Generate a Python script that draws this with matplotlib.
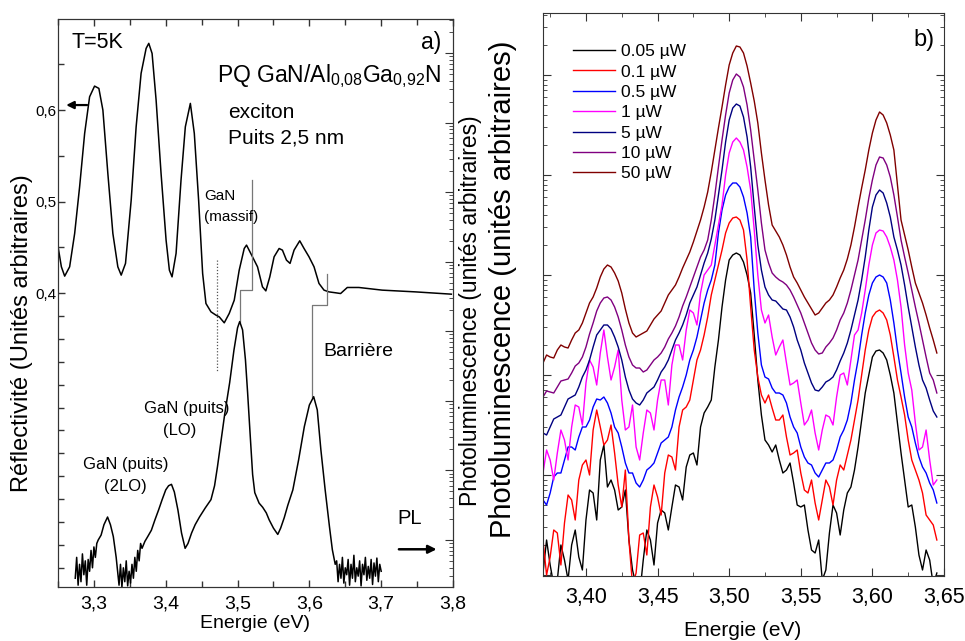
import numpy as np
import matplotlib
matplotlib.use('Agg')
import matplotlib.pyplot as plt
from matplotlib.ticker import MultipleLocator, FixedLocator, LogLocator, NullFormatter, FuncFormatter

plt.rcParams['font.family'] = ['Liberation Sans', 'DejaVu Sans']

# ---------------- Panel a) : reflectivity (linear) ----------------
refl_energy = [3.2501, 3.2547, 3.2593, 3.2662, 3.2732, 3.2801, 3.2871, 3.294, 3.3009, 3.3069,
               3.3125, 3.3194, 3.3264, 3.3333, 3.338, 3.344, 3.3519, 3.3588, 3.3657, 3.3727,
               3.3764, 3.381, 3.3866, 3.3935, 3.4005, 3.4051, 3.4088, 3.4144, 3.4213, 3.4273,
               3.4343, 3.4398, 3.4458, 3.4514, 3.456, 3.463, 3.4699, 3.4745, 3.4815, 3.4884,
               3.4954, 3.5023, 3.5093, 3.5125, 3.5208, 3.5278, 3.5347, 3.5394, 3.5449, 3.5509,
               3.5579, 3.5625, 3.5681, 3.5731, 3.5787, 3.5866, 3.5926, 3.5995, 3.6065, 3.6134,
               3.6204, 3.6273, 3.6366, 3.6435, 3.6528, 3.669, 3.7014, 3.7477, 3.7977]
refl_value = [0.4506, 0.4288, 0.4186, 0.4288, 0.4652, 0.5162, 0.5745, 0.6145, 0.6262, 0.6237,
              0.6000, 0.5308, 0.4652, 0.4288, 0.4197, 0.4325, 0.5016, 0.5817, 0.6401, 0.6674,
              0.6729, 0.6619, 0.6109, 0.5308, 0.4579, 0.4251, 0.4178, 0.4434, 0.5235, 0.5817,
              0.6073, 0.5745, 0.5016, 0.4215, 0.3887, 0.3796, 0.3760, 0.3741, 0.3676, 0.3778,
              0.3923, 0.4251, 0.4488, 0.4525, 0.4397, 0.4288, 0.4069, 0.4025, 0.4178, 0.4397,
              0.4488, 0.4470, 0.4361, 0.4325, 0.4470, 0.4572, 0.4488, 0.4397, 0.4288, 0.4106,
              0.4033, 0.4014, 0.4004, 0.3996, 0.4062, 0.4062, 0.4033, 0.4014, 0.3989]

# PL of panel a) : log10 of intensity read from the log axis
pla_energy = [3.274, 3.276, 3.278, 3.280, 3.282, 3.284, 3.286, 3.288, 3.290, 3.292,
              3.294, 3.296, 3.298, 3.300, 3.302, 3.304, 3.306, 3.31, 3.314, 3.319,
              3.323, 3.327, 3.331, 3.333, 3.335, 3.337, 3.339, 3.341, 3.343, 3.345,
              3.347, 3.349, 3.351, 3.353, 3.355, 3.357, 3.359, 3.361, 3.363, 3.365,
              3.367, 3.371, 3.375, 3.38, 3.385, 3.39, 3.395, 3.40, 3.404, 3.408,
              3.412, 3.417, 3.422, 3.427, 3.431, 3.436, 3.441, 3.447, 3.455, 3.463,
              3.468, 3.472, 3.476, 3.482, 3.489, 3.495, 3.50, 3.503, 3.507, 3.511,
              3.514, 3.518, 3.521, 3.524, 3.53, 3.535, 3.54, 3.544, 3.55, 3.556,
              3.56, 3.565, 3.57, 3.577, 3.585, 3.593, 3.60, 3.606, 3.611, 3.616,
              3.622, 3.628, 3.632, 3.636, 3.638, 3.640, 3.642, 3.644, 3.646, 3.648,
              3.650, 3.652, 3.654, 3.656, 3.658, 3.660, 3.662, 3.664, 3.666, 3.668,
              3.670, 3.672, 3.674, 3.676, 3.678, 3.680, 3.682, 3.684, 3.686, 3.688,
              3.690, 3.692, 3.694, 3.696, 3.698, 3.700]
pla_log10 = [-0.55, -0.25, -0.65, -0.35, -0.60, -0.20, -0.50, -0.30, -0.65, -0.28,
             -0.45, -0.15, -0.40, -0.10, -0.25, -0.05, 0.00, 0.07, 0.22, 0.33,
             0.22, 0.05, -0.25, -0.45, -0.65, -0.35, -0.68, -0.40, -0.60, -0.30,
             -0.66, -0.45, -0.62, -0.35, -0.55, -0.25, -0.45, -0.15, -0.30, -0.05,
             -0.12, -0.02, 0.05, 0.14, 0.29, 0.43, 0.58, 0.72, 0.78, 0.80,
             0.69, 0.43, 0.10, -0.12, -0.05, 0.10, 0.22, 0.33, 0.46, 0.58,
             0.78, 1.05, 1.35, 1.80, 2.26, 2.73, 3.05, 3.14, 3.02, 2.59,
             2.12, 1.44, 0.94, 0.68, 0.53, 0.47, 0.39, 0.29, 0.17, 0.08,
             0.17, 0.32, 0.50, 0.72, 1.15, 1.63, 1.94, 2.06, 1.87, 1.30,
             0.72, 0.19, -0.14, -0.35, -0.30, -0.60, -0.35, -0.55, -0.25, -0.62,
             -0.40, -0.50, -0.28, -0.65, -0.35, -0.55, -0.22, -0.60, -0.40, -0.52,
             -0.30, -0.66, -0.35, -0.50, -0.25, -0.58, -0.38, -0.55, -0.28, -0.64,
             -0.33, -0.52, -0.26, -0.60, -0.35, -0.45]

# ---------------- Panel b) : PL vs excitation power (log10 intensity) ----------------
plb_energy = [3.370, 3.375, 3.380, 3.385, 3.390, 3.395, 3.400, 3.405, 3.410, 3.415,
              3.420, 3.425, 3.430, 3.435, 3.440, 3.445, 3.450, 3.455, 3.460, 3.465,
              3.470, 3.475, 3.480, 3.485, 3.490, 3.495, 3.500, 3.505, 3.510, 3.515,
              3.520, 3.525, 3.530, 3.535, 3.540, 3.545, 3.550, 3.555, 3.560, 3.565,
              3.570, 3.575, 3.580, 3.585, 3.590, 3.595, 3.600, 3.605, 3.610, 3.615,
              3.620, 3.625, 3.630, 3.635, 3.640, 3.645]
plb_energy_mid = [3.3725, 3.3775, 3.3825, 3.3875, 3.3925, 3.3975, 3.4025, 3.4075, 3.4125, 3.4175,
                  3.4225, 3.4275, 3.4325, 3.4375, 3.4425, 3.4475, 3.4525, 3.4575, 3.4625, 3.4675,
                  3.4725, 3.4775, 3.4825, 3.4875, 3.4925, 3.4975, 3.5025, 3.5075, 3.5125, 3.5175,
                  3.5225, 3.5275, 3.5325, 3.5375, 3.5425, 3.5475, 3.5525, 3.5575, 3.5625, 3.5675,
                  3.5725, 3.5775, 3.5825, 3.5875, 3.5925, 3.5975, 3.6025, 3.6075, 3.6125, 3.6175,
                  3.6225, 3.6275, 3.6325, 3.6375, 3.6425]
powers = ['0.05 µW', '0.1 µW', '0.5 µW', '1 µW', '5 µW', '10 µW', '50 µW']

pl_005 = [0.02, 0.10, -0.05, 0.15, 0.30, 0.18, 0.55, 0.82, 1.15, 0.88,
          0.85, 0.68, 0.35, -0.10, 0.15, 0.35, 0.52, 0.62, 0.68, 0.88,
          1.08, 1.22, 1.48, 1.68, 2.08, 2.68, 3.15, 3.22, 3.13, 2.82,
          1.95, 1.35, 1.23, 1.15, 1.05, 0.92, 0.68, 0.45, 0.22, -0.05,
          0.42, 0.62, 0.65, 0.88, 1.28, 1.82, 2.18, 2.25, 2.15, 1.82,
          1.22, 0.68, 0.48, 0.05, 0.15, 0.02]
pl_005_mid = [0.35, -0.10, 0.30, -0.05, 0.45, 0.05, 0.85, 0.55, 1.30, 0.95,
              0.65, 0.85, 0.05, -0.20, 0.45, 0.10, 0.65, 0.45, 0.90, 0.75,
              1.20, 1.10, 1.62, 1.75, 2.35, 2.95, 3.20, 3.20, 3.00, 2.40,
              1.60, 1.30, 1.30, 1.02, 1.12, 0.70, 0.70, 0.25, 0.35, 0.05,
              0.70, 0.40, 0.82, 1.05, 1.55, 2.00, 2.24, 2.22, 2.00, 1.52,
              0.95, 0.70, 0.20, 0.25, -0.10]
pl_01 = [0.35, 0.18, 0.42, 0.52, 0.75, 0.95, 1.15, 1.45, 1.48, 1.35,
         1.22, 0.68, 0.35, 0.02, 0.42, 0.68, 0.78, 1.02, 1.18, 1.48,
         1.68, 1.95, 2.25, 2.58, 2.95, 3.25, 3.52, 3.58, 3.45, 2.68,
         1.98, 1.72, 1.67, 1.55, 1.38, 1.22, 1.02, 0.82, 0.72, 0.75,
         0.88, 0.95, 1.05, 1.35, 1.75, 2.25, 2.58, 2.65, 2.55, 2.18,
         1.78, 1.35, 1.05, 0.82, 0.55, 0.35]
pl_01_mid = [0.00, 0.45, 0.10, 0.80, 0.55, 1.10, 1.00, 1.65, 1.30, 1.50,
             0.90, 1.05, -0.10, 0.40, 0.20, 0.90, 0.60, 1.20, 1.05, 1.65,
             1.75, 2.15, 2.40, 2.80, 3.10, 3.42, 3.57, 3.55, 3.15, 2.25,
             1.80, 1.80, 1.55, 1.60, 1.20, 1.25, 0.85, 0.95, 0.55, 0.95,
             0.70, 1.10, 1.20, 1.55, 2.00, 2.45, 2.63, 2.62, 2.40, 1.95,
             1.60, 1.15, 0.95, 0.60, 0.50]
pl_05 = [0.75, 0.82, 1.02, 1.15, 1.28, 1.38, 1.48, 1.68, 1.75, 1.72,
         1.48, 1.28, 1.02, 0.92, 0.95, 1.08, 1.22, 1.35, 1.48, 1.78,
         2.00, 2.25, 2.55, 2.85, 3.10, 3.65, 3.88, 3.92, 3.78, 3.38,
         2.42, 1.98, 1.87, 1.82, 1.72, 1.48, 1.28, 1.12, 1.02, 1.05,
         1.12, 1.25, 1.45, 1.72, 2.15, 2.62, 2.92, 3.00, 2.92, 2.52,
         2.02, 1.58, 1.32, 1.08, 0.92, 0.72]
pl_05_mid = [0.70, 0.98, 1.02, 1.28, 1.25, 1.48, 1.55, 1.76, 1.78, 1.62,
             1.42, 1.12, 1.02, 0.88, 1.05, 1.12, 1.32, 1.38, 1.65, 1.88,
             2.15, 2.38, 2.72, 2.95, 3.42, 3.80, 3.92, 3.88, 3.62, 2.85,
             2.10, 1.96, 1.82, 1.80, 1.58, 1.42, 1.18, 1.10, 0.98, 1.12,
             1.15, 1.38, 1.55, 1.95, 2.40, 2.80, 2.98, 2.98, 2.75, 2.25,
             1.78, 1.48, 1.18, 1.02, 0.85]
pl_1 = [1.02, 1.15, 1.22, 1.35, 1.48, 1.68, 1.92, 2.08, 2.22, 2.18,
        2.08, 1.75, 1.48, 1.28, 1.42, 1.62, 1.75, 1.95, 2.10, 2.30,
        2.45, 2.62, 2.82, 3.05, 3.30, 3.70, 4.22, 4.37, 4.25, 3.85,
        3.00, 2.52, 2.38, 2.28, 2.12, 1.92, 1.72, 1.55, 1.42, 1.45,
        1.58, 1.78, 2.02, 2.15, 2.45, 2.85, 3.30, 3.45, 3.38, 3.15,
        2.68, 2.02, 1.52, 1.28, 1.15, 0.95]
pl_1_mid = [1.25, 0.95, 1.45, 1.15, 1.70, 1.50, 2.15, 1.90, 2.45, 1.95,
            2.25, 1.45, 1.70, 1.15, 1.65, 1.45, 1.95, 1.70, 2.30, 2.15,
            2.65, 2.50, 3.00, 3.10, 3.50, 4.00, 4.33, 4.33, 4.08, 3.45,
            2.65, 2.60, 2.20, 2.35, 1.90, 1.95, 1.50, 1.65, 1.25, 1.60,
            1.50, 2.00, 1.90, 2.40, 2.62, 3.10, 3.42, 3.44, 3.28, 2.95,
            2.30, 1.85, 1.25, 1.45, 0.90]
pl_5 = [1.42, 1.48, 1.58, 1.68, 1.78, 1.88, 2.05, 2.28, 2.45, 2.50,
        2.38, 2.15, 1.85, 1.72, 1.75, 1.85, 1.95, 2.08, 2.25, 2.42,
        2.60, 2.80, 3.00, 3.22, 3.55, 4.05, 4.55, 4.71, 4.58, 4.08,
        3.30, 2.88, 2.75, 2.70, 2.65, 2.48, 2.25, 2.02, 1.85, 1.88,
        1.95, 2.05, 2.22, 2.45, 2.75, 3.18, 3.68, 3.85, 3.72, 3.38,
        3.10, 2.68, 2.28, 1.95, 1.75, 1.58]
pl_5_mid = [1.40, 1.56, 1.60, 1.76, 1.80, 1.98, 2.15, 2.40, 2.50, 2.46,
            2.28, 1.98, 1.76, 1.70, 1.82, 1.88, 2.03, 2.15, 2.35, 2.50,
            2.72, 2.88, 3.12, 3.36, 3.80, 4.33, 4.67, 4.69, 4.38, 3.68,
            3.05, 2.80, 2.74, 2.66, 2.58, 2.35, 2.12, 1.92, 1.84, 1.93,
            1.98, 2.14, 2.32, 2.60, 2.95, 3.45, 3.80, 3.82, 3.58, 3.25,
            2.90, 2.48, 2.10, 1.87, 1.64]
pl_10 = [1.78, 1.83, 1.88, 1.95, 2.02, 2.12, 2.28, 2.52, 2.72, 2.78,
         2.68, 2.45, 2.18, 2.07, 2.03, 2.10, 2.18, 2.28, 2.42, 2.58,
         2.78, 2.98, 3.18, 3.35, 3.80, 4.35, 4.82, 5.01, 4.88, 4.45,
         3.85, 3.25, 3.02, 2.95, 2.90, 2.78, 2.62, 2.42, 2.25, 2.22,
         2.32, 2.45, 2.62, 2.85, 3.15, 3.55, 3.95, 4.18, 4.10, 3.80,
         3.35, 3.02, 2.68, 2.35, 2.02, 1.82]
pl_10_mid = [1.84, 1.82, 1.94, 1.96, 2.09, 2.18, 2.41, 2.64, 2.77, 2.75,
             2.58, 2.30, 2.10, 2.07, 2.05, 2.15, 2.22, 2.36, 2.49, 2.69,
             2.88, 3.08, 3.25, 3.55, 4.08, 4.60, 4.95, 4.98, 4.70, 4.15,
             3.52, 3.12, 2.98, 2.93, 2.85, 2.70, 2.52, 2.32, 2.21, 2.28,
             2.37, 2.55, 2.72, 3.00, 3.35, 3.77, 4.10, 4.17, 3.98, 3.58,
             3.18, 2.85, 2.52, 2.18, 1.95]
pl_50 = [2.12, 2.18, 2.25, 2.28, 2.35, 2.45, 2.62, 2.78, 2.98, 3.10,
         3.02, 2.82, 2.52, 2.38, 2.42, 2.50, 2.60, 2.72, 2.85, 2.98,
         3.15, 3.33, 3.55, 3.83, 4.25, 4.68, 5.10, 5.29, 5.22, 4.92,
         4.52, 3.95, 3.50, 3.38, 3.20, 2.98, 2.85, 2.72, 2.60, 2.67,
         2.75, 2.88, 3.05, 3.30, 3.68, 4.05, 4.42, 4.63, 4.52, 4.25,
         3.55, 3.25, 2.92, 2.72, 2.47, 2.22]
pl_50_mid = [2.20, 2.17, 2.30, 2.27, 2.42, 2.52, 2.72, 2.87, 3.06, 3.08,
             2.94, 2.66, 2.42, 2.40, 2.44, 2.56, 2.64, 2.80, 2.90, 3.07,
             3.23, 3.44, 3.68, 4.03, 4.47, 4.90, 5.22, 5.28, 5.09, 4.74,
             4.22, 3.70, 3.44, 3.30, 3.08, 2.92, 2.78, 2.66, 2.62, 2.72,
             2.80, 2.97, 3.16, 3.48, 3.87, 4.25, 4.55, 4.60, 4.40, 3.90,
             3.40, 3.08, 2.82, 2.60, 2.35]
series_b = [(pl_005, pl_005_mid), (pl_01, pl_01_mid), (pl_05, pl_05_mid), (pl_1, pl_1_mid),
            (pl_5, pl_5_mid), (pl_10, pl_10_mid), (pl_50, pl_50_mid)]
colors_b = ['#000000', '#FF0000', '#0000FF', '#FF00FF', '#000080', '#800080', '#800000']


def interleave(main, mid):
    out = []
    for a, b in zip(main[:-1], mid):
        out += [a, b]
    out.append(main[-1])
    return out


# ---------------- figure ----------------
W, H = 965, 641
fig = plt.figure(figsize=(W / 100, H / 100), dpi=100)


def rect(x0, y0, x1, y1):
    return [x0 / W, 1 - y1 / H, (x1 - x0) / W, (y1 - y0) / H]


def ftext(x, y, s, **kw):
    return fig.text(x / W, 1 - y / H, s, **kw)


spine_c = '#333333'

# ---- panel a
axL = fig.add_axes(rect(58, 19, 453, 587))
axL.plot(refl_energy, refl_value, color='k', lw=1.1)
axL.set_xlim(3.25, 3.8)
axL.set_ylim(0.079, 0.6995)
axL.xaxis.set_major_locator(MultipleLocator(0.1))
axL.xaxis.set_minor_locator(MultipleLocator(0.05))
axL.xaxis.set_major_formatter(FuncFormatter(lambda v, p: f"{v:.1f}".replace('.', ',')))
axL.yaxis.set_major_locator(FixedLocator([0.4, 0.5, 0.6]))
axL.yaxis.set_major_formatter(FuncFormatter(lambda v, p: f"{v:.1f}".replace('.', ',')))
axL.yaxis.set_minor_locator(FixedLocator([0.45, 0.55, 0.65, 0.375, 0.35, 0.325, 0.3, 0.275,
                                          0.25, 0.225, 0.2, 0.175, 0.15, 0.125, 0.1]))
axL.tick_params(which='both', direction='in', top=True, right=False, color=spine_c)
axL.tick_params(which='major', length=5, width=1)
axL.tick_params(which='minor', length=4, width=1)
axL.tick_params(axis='x', labelsize=14, pad=6)
axL.tick_params(axis='y', labelsize=11, pad=1)
for s in axL.spines.values():
    s.set_color(spine_c)
axL.set_xlabel('Energie (eV)', fontsize=14, labelpad=2)

axL2 = axL.twinx()
axL2.plot(pla_energy, 10 ** np.array(pla_log10), color='k', lw=1.1)
axL2.set_yscale('log')
axL2.set_ylim(10 ** -0.676, 10 ** 7.49)
axL2.yaxis.set_major_locator(LogLocator(base=10))
axL2.yaxis.set_minor_locator(LogLocator(base=10, subs=np.arange(2, 10)))
axL2.yaxis.set_major_formatter(NullFormatter())
axL2.yaxis.set_minor_formatter(NullFormatter())
axL2.tick_params(which='both', direction='in', right=True, color=spine_c)
axL2.tick_params(which='major', length=6)
axL2.tick_params(which='minor', length=3)
for s in axL2.spines.values():
    s.set_color(spine_c)

ftext(22, 333, 'Réflectivité (Unités arbitraires)', rotation=90, fontsize=17,
      ha='center', va='center')

# annotations panel a
gray = '#777777'
axL.plot([3.5208, 3.5208, 3.5028, 3.5028], [0.5235, 0.4033, 0.4033, 0.3683], color=gray, lw=0.9)
axL.plot([3.6042, 3.6042, 3.625, 3.625], [0.2863, 0.3869, 0.3869, 0.4208], color=gray, lw=0.9)
axL.plot([3.4708, 3.4708], [0.436, 0.3137], color='#555555', lw=0.9, ls=(0, (1, 1.5)))
axL.annotate('', xy=(3.2575, 0.6055), xytext=(3.2944, 0.6055),
             arrowprops=dict(arrowstyle='-|>', color='k', lw=1.6, mutation_scale=11))
axL.annotate('', xy=(3.781, 0.1202), xytext=(3.7208, 0.1202),
             arrowprops=dict(arrowstyle='-|>', color='k', lw=1.8, mutation_scale=12))

ftext(72, 42, 'T=5K', fontsize=15.5, ha='left', va='center')
ftext(441, 42, 'a)', fontsize=16.5, ha='right', va='center')
ftext(441, 76, r'PQ GaN/Al$_{\mathregular{0{,}08}}$Ga$_{\mathregular{0{,}92}}$N', fontsize=16.5,
      ha='right', va='center')
ftext(228, 112, 'exciton', fontsize=15, ha='left', va='center')
ftext(228, 138, 'Puits 2,5 nm', fontsize=15, ha='left', va='center')
ftext(204, 196, 'GaN', fontsize=11, ha='left', va='center')
ftext(204, 217, '(massif)', fontsize=11, ha='left', va='center')
ftext(323, 352, 'Barrière', fontsize=14, ha='left', va='center')
ftext(187, 409, 'GaN (puits)', fontsize=12, ha='center', va='center')
ftext(180, 431, '(LO)', fontsize=12, ha='center', va='center')
ftext(126, 465, 'GaN (puits)', fontsize=12, ha='center', va='center')
ftext(125, 487, '(2LO)', fontsize=12, ha='center', va='center')
ftext(397, 519, 'PL', fontsize=14.5, ha='left', va='center')

# ---- panel b
axB = fig.add_axes(rect(543, 13, 944, 576))
e_b = interleave(plb_energy, plb_energy_mid)
for (vals, mids), c, lab in zip(series_b, colors_b, powers):
    axB.plot(e_b, 10 ** np.array(interleave(vals, mids)), color=c, lw=1.0, label=lab)
axB.set_yscale('log')
axB.set_xlim(3.37, 3.65)
axB.set_ylim(10 ** -0.01, 10 ** 5.62)
axB.xaxis.set_major_locator(MultipleLocator(0.05))
axB.xaxis.set_minor_locator(MultipleLocator(0.025))
axB.xaxis.set_major_formatter(FuncFormatter(lambda v, p: f"{v:.2f}".replace('.', ',')))
axB.yaxis.set_major_locator(LogLocator(base=10))
axB.yaxis.set_minor_locator(LogLocator(base=10, subs=np.arange(2, 10)))
axB.yaxis.set_major_formatter(NullFormatter())
axB.yaxis.set_minor_formatter(NullFormatter())
axB.tick_params(which='both', direction='in', top=True, right=True, left=True, color=spine_c)
axB.tick_params(which='major', length=6)
axB.tick_params(which='minor', length=3)
axB.tick_params(axis='x', labelsize=15.5, pad=8)
for s in axB.spines.values():
    s.set_color(spine_c)

leg = axB.legend(loc='upper left', bbox_to_anchor=((573 - 543) / 401, 1 - (44 - 13) / 563),
                 frameon=False, fontsize=12.5, handlelength=2.4, handletextpad=0.35,
                 labelspacing=0.3, borderpad=0, borderaxespad=0)

ftext(935, 40, 'b)', fontsize=17, ha='right', va='center')
ftext(743, 621, 'Energie (eV)', fontsize=15, ha='center', va='top')
ftext(503, 289, 'Photoluminescence (unités arbitraires)', rotation=90, fontsize=21,
      ha='center', va='center')
ftext(470, 311, 'Photoluminescence (unités arbitraires)', rotation=90, fontsize=16.5,
      ha='center', va='center')

fig.savefig('out.png', dpi=100)
